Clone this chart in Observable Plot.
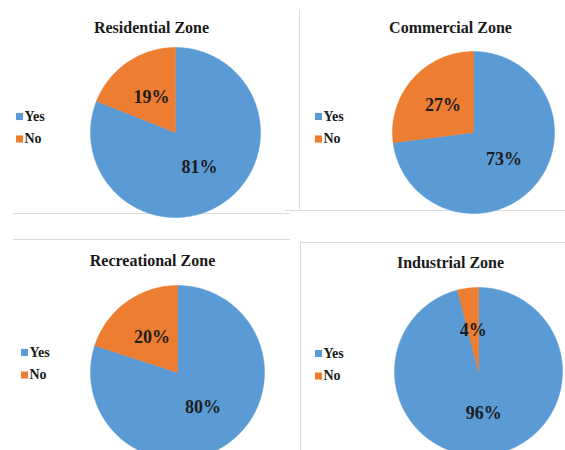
<!DOCTYPE html>
<html><head><meta charset="utf-8">
<script src="https://cdn.jsdelivr.net/npm/d3@7"></script>
<script src="https://cdn.jsdelivr.net/npm/@observablehq/plot@0.6"></script>
<style>body{margin:0;background:#fff} svg text{font-family:'Liberation Serif','DejaVu Serif',serif !important;}</style>
</head><body><div id="chart"></div>
<script>
// ---- data ----
const zones = ["Residential Zone", "Commercial Zone", "Recreational Zone", "Industrial Zone"];
const answers = ["Yes", "No"];
const yesPct = [81, 73, 80, 96];
const noPct = [19, 27, 20, 4];
const colors = ["#5B9BD5", "#ED7D31"];

// ---- layout (pixel positions of each panel) ----
const layout = [
  {cx: 175, cy: 132, r: 85, tx: 151, ty: 27, lx: 19, ly: 116},
  {cx: 473, cy: 132, r: 81, tx: 450, ty: 27, lx: 318, ly: 116},
  {cx: 177, cy: 372, r: 87, tx: 152, ty: 260, lx: 24, ly: 352},
  {cx: 478, cy: 371, r: 84, tx: 450, ty: 262, lx: 318, ly: 353}
];
const hBorders = [
  {y: 213, x1: 13, x2: 290}, {y: 210, x1: 285, x2: 565},
  {y: 239, x1: 13, x2: 290}, {y: 242, x1: 300, x2: 565}
];
const vBorders = [{x: 299, y1: 10, y2: 210}, {x: 300, y1: 242, y2: 450}];

// ---- derived geometry ----
const pie = d3.pie().sort(null);
const wedgePts = [];
const labels = [];
const legend = [];
zones.forEach((zone, i) => {
  const L = layout[i];
  const arcs = pie([yesPct[i], noPct[i]]);
  arcs.forEach((a, j) => {
    const key = zone + "-" + answers[j];
    const pts = [{x: L.cx, y: L.cy}];
    const n = Math.max(2, Math.ceil((a.endAngle - a.startAngle) / (Math.PI / 180)));
    for (let k = 0; k <= n; k++) {
      const t = a.startAngle + (a.endAngle - a.startAngle) * k / n;
      pts.push({x: L.cx + L.r * Math.sin(t), y: L.cy - L.r * Math.cos(t)});
    }
    pts.push({x: L.cx, y: L.cy});
    pts.forEach(p => wedgePts.push({...p, key, answer: answers[j]}));
    const mid = (a.startAngle + a.endAngle) / 2;
    labels.push({x: L.cx + 0.5 * L.r * Math.sin(mid), y: L.cy - 0.5 * L.r * Math.cos(mid), text: a.value + "%"});
    legend.push({x: L.lx, y: L.ly + j * 22.5, answer: answers[j]});
  });
});
const titles = zones.map((z, i) => ({x: layout[i].tx, y: layout[i].ty, text: z}));

const font = "'Liberation Serif', 'DejaVu Serif', serif";
const chart = Plot.plot({
  width: 565, height: 450,
  margin: 0,
  style: {fontFamily: font, background: "#fff"},
  x: {type: "linear", domain: [0, 565], range: [0, 565], axis: null},
  y: {type: "linear", domain: [0, 450], range: [0, 450], axis: null},
  color: {domain: answers, range: colors},
  marks: [
    Plot.ruleY(hBorders, {y: "y", x1: "x1", x2: "x2", stroke: "#dcdcdc", strokeWidth: 1}),
    Plot.ruleX(vBorders, {x: "x", y1: "y1", y2: "y2", stroke: "#dcdcdc", strokeWidth: 1}),
    Plot.line(wedgePts, {x: "x", y: "y", z: "key", fill: "answer", stroke: "answer", strokeWidth: 0.5, curve: "linear"}),
    Plot.text(labels, {x: "x", y: "y", text: "text", fontSize: 18, fontWeight: "bold", fill: "#1c1c1c", fontFamily: font}),
    Plot.text(titles, {x: "x", y: "y", text: "text", fontSize: 16, fontWeight: "bold", fill: "#1a1a1a", fontFamily: font}),
    Plot.dot(legend, {x: "x", y: "y", symbol: "square", r: 4, fill: "answer", stroke: null}),
    Plot.text(legend, {x: d => d.x + 5, y: "y", text: "answer", textAnchor: "start", fontSize: 14, fontWeight: "bold", fill: "#1a1a1a", fontFamily: font})
  ]
});
document.getElementById("chart").appendChild(chart);
</script>
</body></html>
